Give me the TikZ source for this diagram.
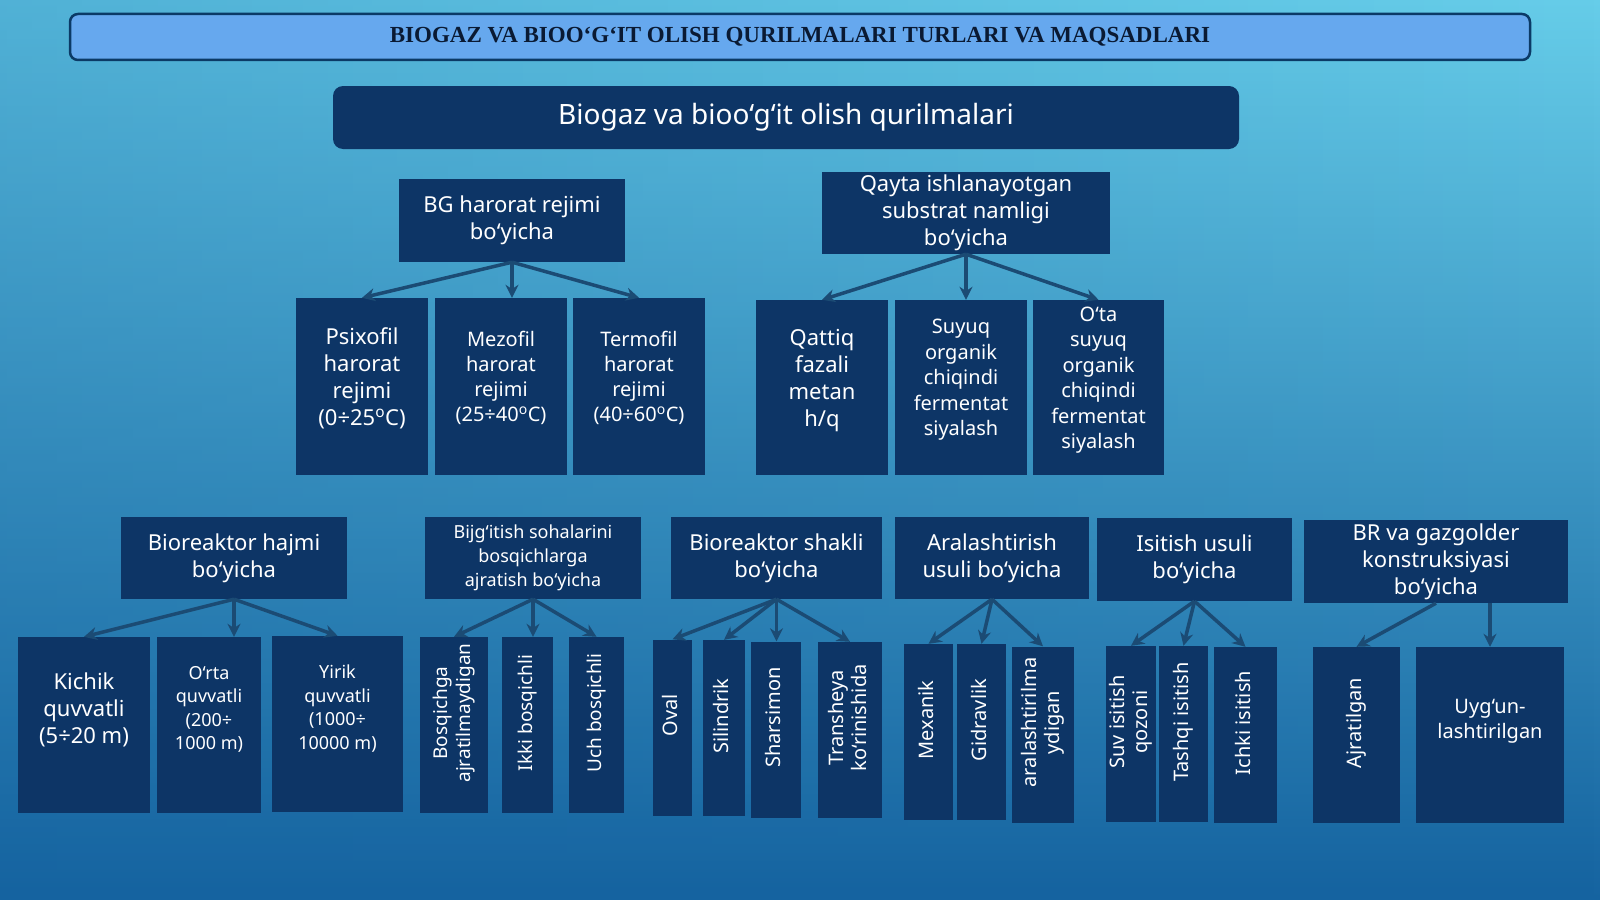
\documentclass[tikz,border=0pt]{standalone}
\usepackage{fontspec}
\setmainfont{Noto Sans}
\newfontfamily\titlefont{Liberation Serif}
\usetikzlibrary{arrows.meta,fadings}
\definecolor{boxblue}{HTML}{0D3566}
\definecolor{arrowblue}{HTML}{1B4B74}
\definecolor{titleblue}{HTML}{66A8EE}
\definecolor{titleline}{HTML}{0B3A66}
\definecolor{titletext}{HTML}{0A1A33}
\definecolor{bgtop}{HTML}{66CDE9}
\definecolor{bgmid}{HTML}{3094C6}
\definecolor{bgbot}{HTML}{1563A0}
\newcommand\fsz[2]{\fontsize{#1pt}{#2pt}\selectfont}
\newcommand\vtxt[1]{\rotatebox{90}{\begin{tabular}{@{}c@{}}#1\end{tabular}}}
\tikzset{
  box/.style={fill=boxblue, text=white, inner sep=0pt, align=center, font=\fsz{22}{27}},
  lift/.style={text depth=#1},
  vbox/.style={box, minimum height=176pt, lift=24pt},
  arr/.style={arrowblue, line width=3.5pt, -{Stealth[length=13pt,width=13pt]}}
}
\begin{document}
\begin{tikzpicture}[x=1pt,y=-1pt]
  \useasboundingbox (0,0) rectangle (1600,899);
  \shade[top color=bgtop, middle color=bgmid, bottom color=bgbot] (0,0) rectangle (1600,899);
  \fill[bgbot, path fading=east, fill opacity=0.26] (0,0) rectangle (1600,899);
  \node[draw=titleline, line width=2.5pt, fill=titleblue, rounded corners=8pt,
    minimum width=1460pt, minimum height=46pt, inner sep=0pt, text=titletext,
    font=\titlefont\bfseries\fsz{23}{27}] (title) at (800,37)
    {BIOGAZ VA BIOO‘G‘IT OLISH QURILMALARI TURLARI VA MAQSADLARI};
  \node[box, rounded corners=10pt, minimum width=906pt, minimum height=63pt,
    font=\fsz{28}{34}] (main) at (786,117.5) {Biogaz va bioo‘g‘it olish qurilmalari};

  \node[box, minimum width=226pt, minimum height=83pt] (bg) at (512,220.5) {BG harorat rejimi\\bo‘yicha};
  \node[box, minimum width=288pt, minimum height=82pt] (qayta) at (966,213) {Qayta ishlanayotgan\\substrat namligi\\bo‘yicha};

  \node[box, lift=20pt, minimum width=132pt, minimum height=177pt] (psix) at (362,386.5) {Psixofil\\harorat\\rejimi\\(0÷25\textsuperscript{o}C)};
  \node[box, lift=20pt, minimum width=132pt, minimum height=177pt, font=\fsz{20}{25}] (mezo) at (501,386.5) {Mezofil\\harorat\\rejimi\\(25÷40\textsuperscript{o}C)};
  \node[box, lift=20pt, minimum width=132pt, minimum height=177pt, font=\fsz{20}{25}] (termo) at (639,386.5) {Termofil\\harorat\\rejimi\\(40÷60\textsuperscript{o}C)};
  \node[box, lift=20pt, minimum width=132pt, minimum height=175pt] (qattiq) at (822,387.5) {Qattiq\\fazali\\metan\\h/q};
  \node[box, lift=20pt, minimum width=132pt, minimum height=175pt, font=\fsz{20}{25.5}] (suyuq) at (961,387.5) {Suyuq\\organik\\chiqindi\\fermentat\\siyalash};
  \node[box, lift=20pt, minimum width=131pt, minimum height=175pt, font=\fsz{20}{25.5}] (ota) at (1098.5,387.5) {O‘ta\\suyuq\\organik\\chiqindi\\fermentat\\siyalash};

  \node[box, minimum width=226pt, minimum height=82pt] (hajm) at (234,558) {Bioreaktor hajmi\\bo‘yicha};
  \node[box, minimum width=216pt, minimum height=82pt, font=\fsz{18}{24}] (bijg) at (533,558) {Bijg‘itish sohalarini\\bosqichlarga\\ajratish bo‘yicha};
  \node[box, minimum width=211pt, minimum height=82pt] (shakl) at (776.5,558) {Bioreaktor shakli\\bo‘yicha};
  \node[box, minimum width=194pt, minimum height=82pt] (aral) at (992,558) {Aralashtirish\\usuli bo‘yicha};
  \node[box, minimum width=195pt, minimum height=83pt] (isit) at (1194.5,559.5) {Isitish usuli\\bo‘yicha};
  \node[box, minimum width=264pt, minimum height=83pt] (konst) at (1436,561.5) {BR va gazgolder\\konstruksiyasi\\bo‘yicha};

  \node[box, lift=34pt, minimum width=132pt, minimum height=176pt] (kichik) at (84,725) {Kichik\\quvvatli\\(5÷20 m)};
  \node[box, lift=34pt, minimum width=104pt, minimum height=176pt, font=\fsz{18}{23.5}] (orta) at (209,725) {O‘rta\\quvvatli\\(200÷\\1000 m)};
  \node[box, lift=34pt, minimum width=131pt, minimum height=176pt, font=\fsz{18}{23.5}] (yirik) at (337.5,724) {Yirik\\quvvatli\\(1000÷\\10000 m)};
  \foreach \n/\x/\y/\w/\f/\lbl in {
    bosq/454/725/68/19/{Bosqichga\\ajratilmaydigan}, ikki/527.5/725/51/19/{Ikki bosqichli},
    uch/596.5/725/55/19/{Uch bosqichli}, oval/672.5/727.5/39/20/{Oval},
    silin/724/728/42/20/{Silindrik}, shar/776/729.5/50/20/{Sharsimon},
    trans/850/730/64/20/{Transheya\\ko‘rinishida}, mexa/928.5/732/49/20/{Mexanik},
    gidra/981.5/732/49/20/{Gidravlik}, arala/1043/734.5/62/20/{aralashtirilma\\ydigan},
    suv/1131/734/50/20/{Suv isitish\\qozoni}, tashq/1183.5/734/49/20/{Tashqi isitish},
    ichki/1245.5/735/63/20/{Ichki isitish}, ajrat/1356.5/735/87/20/{Ajratilgan}
  }
  \node[vbox, minimum width=\w pt, font=\fsz{\f}{23}] (\n) at (\x,\y) {\vtxt{\lbl}};
  \node[box, lift=32pt, minimum width=148pt, minimum height=176pt, font=\fsz{20}{25}] (uygun) at (1490,735) {Uyg‘un-\\lashtirilgan};

  \foreach \c in {psix,termo} \draw[arr] (bg.south) -- (\c.north);
  \draw[arr] (bg.south) -- (bg.south |- mezo.north);
  \foreach \c in {qattiq,ota} \draw[arr] (qayta.south) -- (\c.north);
  \draw[arr] (qayta.south) -- (qayta.south |- suyuq.north);
  \foreach \c in {kichik,yirik} \draw[arr] (hajm.south) -- (\c.north);
  \draw[arr] (hajm.south) -- (hajm.south |- orta.north);
  \foreach \c in {bosq,uch} \draw[arr] (bijg.south) -- (\c.north);
  \draw[arr] (bijg.south) -- (bijg.south |- ikki.north);
  \foreach \c in {oval,silin,trans} \draw[arr] (shakl.south) -- (\c.north);
  \draw[arr] (shakl.south) -- (shakl.south |- shar.north);
  \foreach \c in {mexa,gidra,arala} \draw[arr] (aral.south) -- (\c.north);
  \foreach \c in {suv,tashq,ichki} \draw[arr] (isit.south) -- (\c.north);
  \draw[arr] (konst.south) -- (ajrat.north);
  \draw[arr] (konst.south -| uygun.north) -- (uygun.north);
\end{tikzpicture}
\end{document}
